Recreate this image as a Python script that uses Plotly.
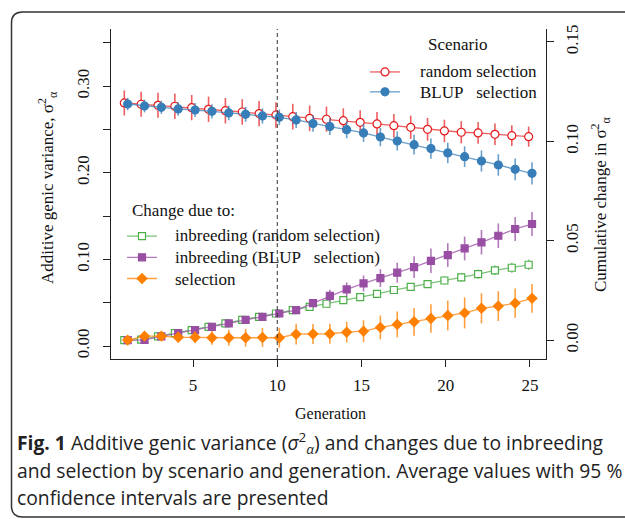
import plotly.graph_objects as go

generation = list(range(1, 26))

# Left axis: additive genic variance
random_sel = [0.2806, 0.2791, 0.2779, 0.2768, 0.2752, 0.2733, 0.2717, 0.2702, 0.2683, 0.2667,
              0.2648, 0.2629, 0.2618, 0.2602, 0.2583, 0.2564, 0.2544, 0.2525, 0.2502, 0.2483,
              0.2468, 0.2460, 0.2444, 0.2428, 0.2417]
random_err = [0.0145, 0.0145, 0.0145, 0.0146, 0.0146, 0.0146, 0.0147, 0.0147, 0.0147, 0.0148,
              0.0148, 0.0148, 0.0145, 0.0142, 0.0140, 0.0138, 0.0136, 0.0134, 0.0132, 0.0130,
              0.0128, 0.0126, 0.0124, 0.0120, 0.0116]
blup_sel = [0.2794, 0.2771, 0.2756, 0.2737, 0.2725, 0.2710, 0.2691, 0.2675, 0.2656, 0.2640,
            0.2610, 0.2569, 0.2533, 0.2498, 0.2460, 0.2413, 0.2367, 0.2325, 0.2279, 0.2229,
            0.2186, 0.2136, 0.2090, 0.2040, 0.1994]
blup_err = [0.0072, 0.0074, 0.0076, 0.0078, 0.0080, 0.0082, 0.0084, 0.0086, 0.0088, 0.0090,
            0.0092, 0.0094, 0.0097, 0.0100, 0.0103, 0.0106, 0.0110, 0.0113, 0.0116, 0.0118,
            0.0120, 0.0122, 0.0124, 0.0126, 0.0128]

# Right axis: cumulative change
inb_random = [0.0000, 0.0002, 0.0019, 0.0035, 0.0050, 0.0067, 0.0084, 0.0102, 0.0117, 0.0134,
              0.0151, 0.0167, 0.0183, 0.0201, 0.0216, 0.0233, 0.0252, 0.0268, 0.0282, 0.0300,
              0.0316, 0.0332, 0.0351, 0.0364, 0.0379]
inb_random_err = [0.0003, 0.0004, 0.0005, 0.0006, 0.0007, 0.0008, 0.0008, 0.0009, 0.0010, 0.0011,
                  0.0012, 0.0013, 0.0014, 0.0015, 0.0016, 0.0017, 0.0018, 0.0019, 0.0020, 0.0021,
                  0.0022, 0.0023, 0.0024, 0.0025, 0.0026]
inb_blup = [0.0000, 0.0001, 0.0019, 0.0035, 0.0050, 0.0067, 0.0084, 0.0102, 0.0117, 0.0134,
            0.0151, 0.0186, 0.0223, 0.0255, 0.0285, 0.0312, 0.0339, 0.0367, 0.0399, 0.0428,
            0.0461, 0.0492, 0.0525, 0.0559, 0.0584]
inb_blup_err = [0.0003, 0.0005, 0.0007, 0.0008, 0.0010, 0.0011, 0.0012, 0.0013, 0.0014, 0.0015,
                0.0017, 0.0020, 0.0030, 0.0035, 0.0040, 0.0045, 0.0050, 0.0055, 0.0062, 0.0060,
                0.0060, 0.0062, 0.0062, 0.0060, 0.0060]
selection = [0.0000, 0.0020, 0.0020, 0.0014, 0.0014, 0.0012, 0.0012, 0.0012, 0.0013, 0.0012,
             0.0030, 0.0031, 0.0032, 0.0040, 0.0045, 0.0064, 0.0079, 0.0092, 0.0109, 0.0124,
             0.0137, 0.0160, 0.0171, 0.0186, 0.0210]
selection_err = [0.0005, 0.0012, 0.0020, 0.0025, 0.0030, 0.0035, 0.0040, 0.0045, 0.0048, 0.0050,
                 0.0052, 0.0050, 0.0050, 0.0052, 0.0055, 0.0060, 0.0065, 0.0070, 0.0072, 0.0075,
                 0.0078, 0.0076, 0.0075, 0.0074, 0.0072]

left_ticks = [0.00, 0.10, 0.20, 0.30]
left_ticktext = ["0.00", "0.10", "0.20", "0.30"]
left_minor_ticks = [0.05, 0.15, 0.25, 0.35]
right_ticks = [0.00, 0.05, 0.10, 0.15]
right_ticktext = ["0.00", "0.05", "0.10", "0.15"]
x_ticks = [5, 10, 15, 20, 25]

NB = "\u00a0"
scenario_title = "Scenario"
scenario_labels = ["random selection", "BLUP" + NB * 3 + "selection"]
change_title = "Change due to:"
change_labels = ["inbreeding (random selection)", "inbreeding (BLUP" + NB * 3 + "selection)", "selection"]

RED, BLUE, GREEN, PURPLE, ORANGE = "#E41A1C", "#377EB8", "#4DAF4A", "#984EA3", "#FF7F00"
LRED, LBLUE, LGREEN, LPURPLE, LORANGE = ("rgba(228,26,28,0.7)", "rgba(55,126,184,0.75)",
                                         "rgba(77,175,74,0.75)", "rgba(152,78,163,0.75)",
                                         "rgba(255,127,0,0.75)")
SERIF = "Liberation Serif"

def shifted(d):
    return [g + d for g in generation]

fig = go.Figure()

def add(name, x, y, err, color, lcolor, symbol, size, fill, yaxis, legend):
    fig.add_trace(go.Scatter(
        x=x, y=y, name=NB, meta=[name], mode="lines+markers", yaxis=yaxis, legend=legend,
        line=dict(color=lcolor, width=1.3),
        marker=dict(symbol=symbol, size=size, color=fill, line=dict(color=color, width=1.2)),
        error_y=dict(type="data", array=err, color=lcolor, thickness=1.6, width=0),
    ))

add(scenario_labels[0], shifted(-0.08), random_sel, random_err, RED, LRED, "circle", 8, "white", "y", "legend")
add(scenario_labels[1], shifted(0.12), blup_sel, blup_err, BLUE, LBLUE, "circle", 8, BLUE, "y", "legend")
add(change_labels[0], shifted(-0.08), inb_random, inb_random_err, GREEN, LGREEN, "square", 7, "white", "y2", "legend2")
add(change_labels[1], shifted(0.12), inb_blup, inb_blup_err, PURPLE, LPURPLE, "square", 7, PURPLE, "y2", "legend2")
add(change_labels[2], shifted(0.12), selection, selection_err, ORANGE, LORANGE, "diamond", 7.5, ORANGE, "y2", "legend2")

W, H = 625, 519
L, R, T, B = 111, 546, 29, 359
def px(xp):
    return (xp - L) / (R - L)
def py(yp):
    return (B - yp) / (B - T)

axis_font = dict(family=SERIF, size=17, color="#111")
common = dict(showgrid=False, zeroline=False, showline=True, linecolor="#222", linewidth=1,
              ticks="outside", ticklen=7, tickcolor="#222", tickfont=axis_font)

fig.update_layout(
    width=W, height=H,
    margin=dict(l=L, r=W - R, t=T, b=H - B, autoexpand=False),
    paper_bgcolor="white", plot_bgcolor="white",
    font=dict(family=SERIF, size=16, color="#111"),
    xaxis=dict(range=[0.13, 25.95], tickvals=x_ticks, ticklabelstandoff=4, **common),
    yaxis=dict(range=[-0.015, 0.366], tickvals=left_ticks, ticktext=left_ticktext,
               tickangle=-90, ticklabelstandoff=7,
               minor=dict(tickvals=left_minor_ticks, ticks="outside", ticklen=7, tickcolor="#222",
                          showgrid=False),
               **common),
    yaxis2=dict(range=[-0.0095, 0.1565], tickvals=right_ticks, ticktext=right_ticktext,
                overlaying="y", side="right", tickangle=-90, ticklabelstandoff=4, **common),
    legend=dict(x=px(365), y=py(57), xanchor="left", yanchor="top", bgcolor="rgba(0,0,0,0)",
                font=dict(family=SERIF, size=13), itemwidth=30, tracegroupgap=0),
    legend2=dict(x=px(122), y=py(220.5), xanchor="left", yanchor="top", bgcolor="rgba(0,0,0,0)",
                 font=dict(family=SERIF, size=14), itemwidth=30, tracegroupgap=0),
    showlegend=True,
)

# vertical dashed line at generation 10
fig.add_shape(type="line", xref="x", yref="paper", x0=10, x1=10, y0=0, y1=1,
              line=dict(color="#333", width=1, dash="4px,3px"))

# rounded frame
x0, y0, y1, xr = px(11.5), py(12), py(517), px(640)
rx, ry = 11 / (R - L), 11 / (B - T)
frame = (f"M {xr},{y0} L {x0 + rx},{y0} Q {x0},{y0} {x0},{y0 - ry} "
         f"L {x0},{y1 + ry} Q {x0},{y1} {x0 + rx},{y1} L {xr},{y1}")
fig.add_shape(type="path", xref="paper", yref="paper", path=frame,
              line=dict(color="#333", width=1.5))

def label(text, xp, yp, size=17, xanchor="left", angle=0, family=SERIF, color="#111"):
    fig.add_annotation(text=text, xref="paper", yref="paper", x=px(xp), y=py(yp),
                       showarrow=False, xanchor=xanchor, yanchor="middle", textangle=angle,
                       font=dict(family=family, size=size, color=color))

# legend texts
label(scenario_title, 457, 45, xanchor="center")
for i, t in enumerate(scenario_labels):
    label(t, 418, 72 + 20 * i)
label(change_title, 130, 210)
for i, t in enumerate(change_labels):
    label(t, 173, 236 + 21.5 * i)

# axis titles
label("Additive genic variance, σ<sup>2</sup><sub>α</sub>", 47, 188, xanchor="center", angle=-90)
label("Cumulative change in σ<sup>2</sup><sub>α</sub>", 600, 205, xanchor="center", angle=-90)
label("Generation", 330, 413, size=16, xanchor="center")

# caption
caption = [
    "<b>Fig. 1</b> Additive genic variance (<i>σ</i><sup>2</sup><sub><i>α</i></sub>) and changes due to inbreeding",
    "and selection by scenario and generation. Average values with 95 %",
    "confidence intervals are presented",
]
for i, line in enumerate(caption):
    label(line, 15, 443 + 27 * i, size=19.3, family="Open Sans", color="#222")

fig.write_html("out.html", config={"displayModeBar": False},
               post_script="document.body.style.margin='0px';document.body.style.overflow='hidden';")
